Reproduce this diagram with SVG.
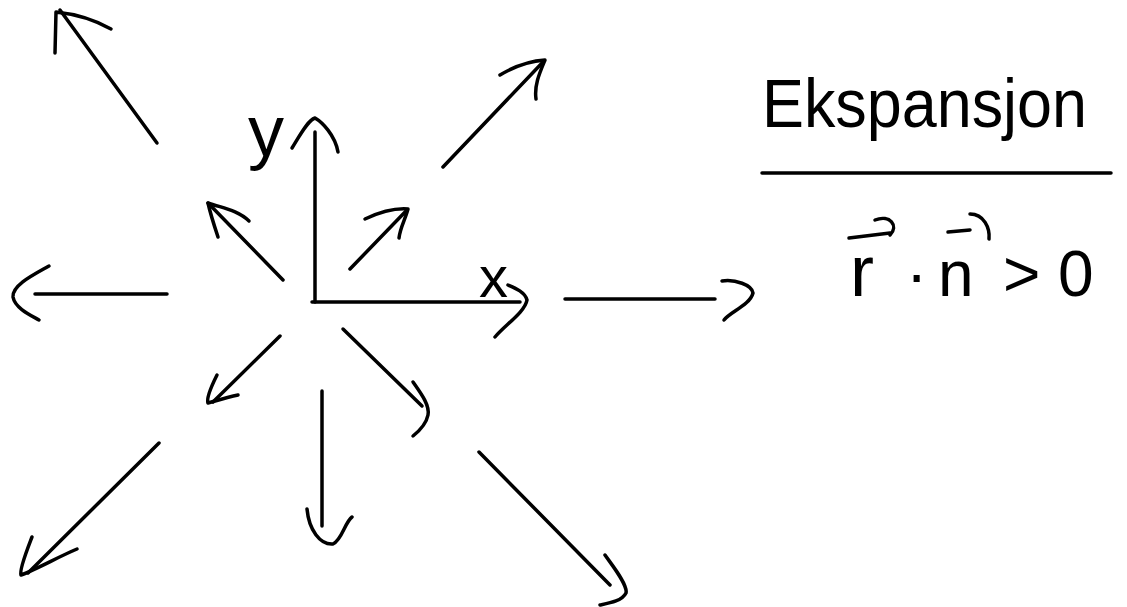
<svg xmlns="http://www.w3.org/2000/svg" width="1127" height="607" viewBox="0 0 1127 607">
<style>
.s{fill:none;stroke:#000;stroke-width:3.5;stroke-linecap:round;stroke-linejoin:round}
.t{font-family:"Liberation Sans",Arial,sans-serif;fill:#000}
</style>
<rect width="1127" height="607" fill="#fff"/>
<g id="connectors">
<g id="axis-y"><path class="s" d="M315,132 L315,302"/><path class="s" d="M292,148 C300,135 308,120 315,118 C322,122 335,135 338,152"/></g>
<g id="axis-x"><path class="s" d="M312,302 L520,302"/><path class="s" d="M508,285 C515,288 525,292 527,300 C525,312 505,325 495,337"/></g>
<g id="arrow-nw-big"><path class="s" d="M157,143 L60,10"/><path class="s" d="M55,53 L56,12 C75,14 95,20 111,29"/></g>
<g id="arrow-ne-big"><path class="s" d="M443,167 L543,62"/><path class="s" d="M500,75 C515,66 530,61 545,60 C540,72 534,85 536,99"/></g>
<g id="arrow-ne-small"><path class="s" d="M350,269 L407,210"/><path class="s" d="M365,219 C380,212 395,208 408,209 C405,220 400,228 399,238"/></g>
<g id="arrow-nw-small"><path class="s" d="M283,280 L208,203"/><path class="s" d="M218,237 C214,225 210,212 208,203 C222,208 238,210 249,221"/></g>
<g id="arrow-w"><path class="s" d="M35,294 L167,294"/><path class="s" d="M49,266 C35,274 12,285 13,297 C15,308 30,315 39,320"/></g>
<g id="arrow-e"><path class="s" d="M565,299 L715,299"/><path class="s" d="M722,281 C735,279 752,285 753,293 C750,305 730,312 724,320"/></g>
<g id="arrow-sw-small"><path class="s" d="M280,336 L213,402"/><path class="s" d="M217,375 C212,385 206,398 208,403 C215,401 228,397 238,395"/></g>
<g id="arrow-sw-big"><path class="s" d="M159,443 L28,573"/><path class="s" d="M32,537 C27,550 19,570 21,575 C35,570 60,556 77,549"/></g>
<g id="arrow-s"><path class="s" d="M322,391 L322,526"/><path class="s" d="M307,509 C309,530 320,545 333,544 C342,540 345,522 352,517"/></g>
<g id="arrow-se-small"><path class="s" d="M343,329 L422,406"/><path class="s" d="M413,382 C420,392 430,405 428,415 C426,425 418,432 413,436"/></g>
<g id="arrow-se-big"><path class="s" d="M479,452 L610,585"/><path class="s" d="M605,555 C612,565 628,585 626,593 C622,601 610,603 600,605"/></g>
</g>
<g id="label-y"><text class="t" x="248" y="156" font-size="72">y</text></g>
<g id="label-x"><text class="t" x="479" y="297" font-size="58">x</text></g>
<g id="title">
<text class="t" x="762" y="127" font-size="68" textLength="325" lengthAdjust="spacingAndGlyphs">Ekspansjon</text>
<path class="s" d="M762,173 L1111,173" stroke-width="3"/>
</g>
<g id="condition">
<text class="t" y="296" font-size="64"><tspan x="850" font-size="72">r</tspan><tspan x="906">·</tspan><tspan x="938">n</tspan><tspan x="1003">&gt;</tspan><tspan x="1058">0</tspan></text>
<path class="s" d="M849,238 L890,233"/><path class="s" d="M875,220 C890,214 899,226 890,235"/>
<path class="s" d="M948,232 L970,230"/><path class="s" d="M970,214 C984,214 990,228 989,239"/>
</g>
</svg>
